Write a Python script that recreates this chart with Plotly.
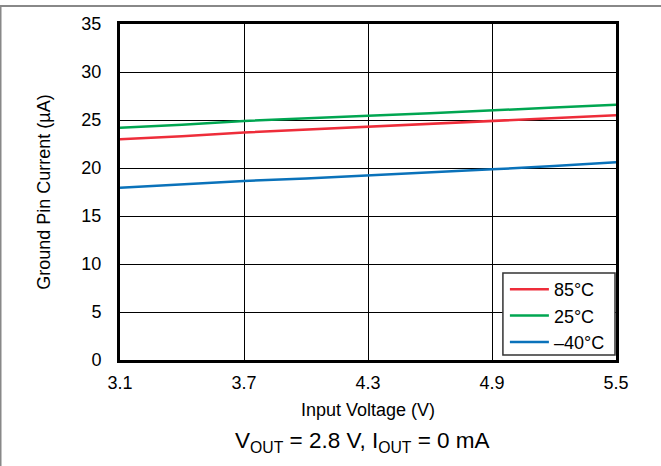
import plotly.graph_objects as go

vin = [3.1, 3.4, 3.7, 4.0, 4.3, 4.6, 4.9, 5.2, 5.5]
i_85 = [23.0, 23.3, 23.7, 24.0, 24.3, 24.6, 24.9, 25.2, 25.5]
i_25 = [24.2, 24.5, 24.9, 25.2, 25.45, 25.7, 25.97, 26.3, 26.6]
i_m40 = [17.95, 18.3, 18.65, 18.9, 19.2, 19.5, 19.86, 20.2, 20.6]
names = ["85°C", "25°C", "\u201340°C"]
colors = ["#EE2D3A", "#00A651", "#0A72BA"]
x_ticks = [3.1, 3.7, 4.3, 4.9, 5.5]
y_ticks = [0, 5, 10, 15, 20, 25, 30, 35]

fig = go.Figure()
for ys, n, c in zip([i_85, i_25, i_m40], names, colors):
    fig.add_trace(go.Scatter(x=vin, y=ys, mode="lines", name=n,
                             line=dict(color=c, width=2.5)))

font = "Liberation Sans, Arial, sans-serif"
fig.update_layout(
    width=661, height=466,
    margin=dict(l=120, r=45, t=24, b=106),
    paper_bgcolor="white", plot_bgcolor="white",
    font=dict(family=font, size=18, color="black"),
    showlegend=True,
    legend=dict(x=0.776, y=-0.003, xanchor="left", yanchor="bottom",
                bgcolor="rgba(0,0,0,0)", borderwidth=0,
                font=dict(size=18), tracegroupgap=0, itemwidth=39),
    xaxis=dict(range=[3.1, 5.5], tickvals=x_ticks, ticktext=[str(v) for v in x_ticks],
               showgrid=True, gridcolor="black", gridwidth=1,
               showline=True, linecolor="black", linewidth=3, mirror=True,
               ticks="", zeroline=False, ticklabelstandoff=4,
               title=dict(text="Input Voltage (V)", font=dict(size=18), standoff=12)),
    yaxis=dict(range=[0, 35], tickvals=y_ticks,
               showgrid=True, gridcolor="black", gridwidth=1,
               showline=True, linecolor="black", linewidth=3, mirror=True,
               ticks="", zeroline=False, ticklabelstandoff=12,
               title=dict(text="Ground Pin Current (\u00b5A)", font=dict(size=18), standoff=27)),
    shapes=[
        dict(type="rect", xref="paper", yref="paper", x0=0.772, x1=0.998, y0=0.0149, y1=0.259,
             fillcolor="white", line=dict(color="#333333", width=1.5), layer="above"),
        dict(type="line", xref="paper", yref="paper", x0=-0.245, x1=1.1, y0=1.0536, y1=1.0536,
             line=dict(color="#888888", width=2)),
        dict(type="line", xref="paper", yref="paper", x0=-0.2409, x1=-0.2409, y0=1.0536, y1=-0.33,
             line=dict(color="#888888", width=2)),
    ],
    annotations=[
        dict(text="V<sub>OUT</sub> = 2.8 V, I<sub>OUT</sub> = 0 mA", xref="paper", yref="paper",
             x=0.488, y=-0.243, xanchor="center", yanchor="middle", showarrow=False,
             font=dict(size=22.5)),
    ],
)
fig.write_html("out.html", config={"displayModeBar": False},
               post_script="document.body.style.margin='0';document.body.style.overflow='hidden';")
